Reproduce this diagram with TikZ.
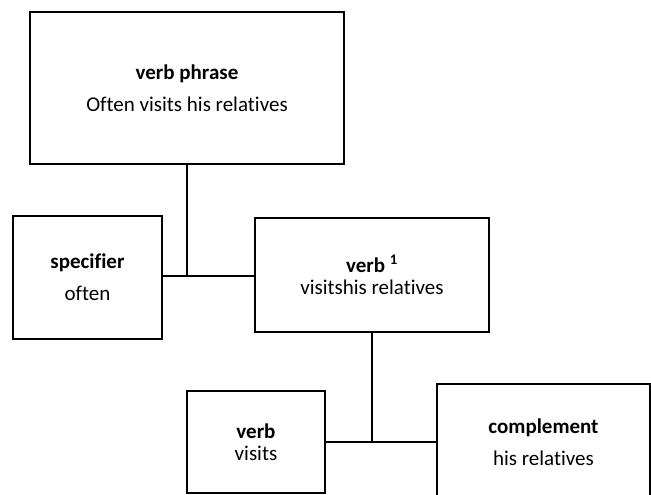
\documentclass[tikz,border=0pt]{standalone}
\usepackage{fontspec}
\setmainfont[Ligatures=NoCommon]{Carlito}
\begin{document}
\begin{tikzpicture}[x=1pt,y=-1pt,
  box/.style={draw=black,line width=1.8pt,rectangle,inner sep=0pt,align=center,text=black},
  wide/.style={font=\fontsize{21}{32}\selectfont},
  tight/.style={font=\fontsize{21}{22.5}\selectfont},
  conn/.style={draw=black,line width=1.8pt}]
\clip (0,0) rectangle (651,495);
\useasboundingbox (0,0) rectangle (651,495);
\node[box,wide,minimum width=314pt,minimum height=152pt] (vp) at (187,88)
  {\textbf{verb phrase}\\Often visits his relatives};
\node[box,wide,minimum width=149pt,minimum height=123pt] (spec) at (87.5,277.5)
  {\textbf{specifier}\\often};
\node[box,tight,minimum width=234pt,minimum height=114pt] (v1) at (372,275)
  {\textbf{verb \textsuperscript{1}}\\visitshis relatives};
\node[box,tight,minimum width=138pt,minimum height=102pt] (vb) at (256,442)
  {\textbf{verb}\\visits};
\node[box,wide,minimum width=213pt,minimum height=116pt] (comp) at (543.5,442)
  {\textbf{complement}\\his relatives};
\coordinate (j1) at (187,276);
\coordinate (j2) at (372,442);
\draw[conn] (vp.south) -- (j1);
\draw[conn] (spec.east |- j1) -- (v1.west |- j1);
\draw[conn] (v1.south) -- (j2);
\draw[conn] (vb.east) -- (comp.west);
\end{tikzpicture}
\end{document}
